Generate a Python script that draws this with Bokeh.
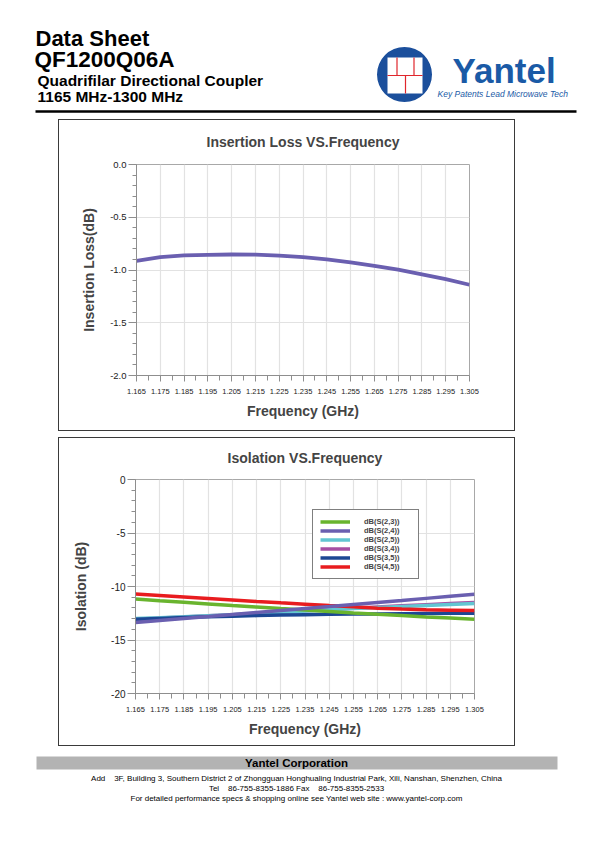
from bokeh.plotting import figure
from bokeh.models import Range1d, FixedTicker, Legend, LegendItem, Spacer
from bokeh.layouts import column, row
from bokeh.embed import file_html
from bokeh.resources import INLINE
from bokeh.core.properties import value

FONT = "Liberation Sans"

# ---------------- data ----------------
freq = [1.165, 1.175, 1.185, 1.195, 1.205, 1.215, 1.225, 1.235,
        1.245, 1.255, 1.265, 1.275, 1.285, 1.295, 1.305]
freq_tick_labels = ["1.165", "1.175", "1.185", "1.195", "1.205", "1.215", "1.225", "1.235",
                    "1.245", "1.255", "1.265", "1.275", "1.285", "1.295", "1.305"]

insertion_loss = [-0.913, -0.878, -0.862, -0.856, -0.853, -0.855, -0.864, -0.877,
                  -0.899, -0.928, -0.960, -0.997, -1.041, -1.087, -1.140]
il_ticks = [0.0, -0.5, -1.0, -1.5, -2.0]
il_tick_labels = ["0.0", "-0.5", "-1.0", "-1.5", "-2.0"]

s23 = [-11.17, -11.33, -11.48, -11.63, -11.78, -11.92, -12.06, -12.19,
       -12.33, -12.47, -12.60, -12.72, -12.84, -12.95, -13.06]
s24 = [-13.37, -13.18, -12.99, -12.80, -12.61, -12.42, -12.24, -12.06,
       -11.88, -11.69, -11.50, -11.31, -11.11, -10.91, -10.72]
s25 = [-13.00, -12.92, -12.83, -12.73, -12.63, -12.52, -12.40, -12.28,
       -12.17, -12.06, -11.96, -11.86, -11.77, -11.68, -11.60]
s34 = [-13.05, -12.95, -12.85, -12.74, -12.63, -12.51, -12.39, -12.27,
       -12.15, -12.03, -11.91, -11.80, -11.70, -11.60, -11.50]
s35 = [-13.06, -12.98, -12.90, -12.83, -12.77, -12.72, -12.67, -12.63,
       -12.60, -12.58, -12.56, -12.54, -12.52, -12.51, -12.50]
s45 = [-10.70, -10.84, -10.98, -11.12, -11.26, -11.40, -11.53, -11.65,
       -11.78, -11.90, -12.03, -12.11, -12.17, -12.21, -12.25]
iso_ticks = [0, -5, -10, -15, -20]
iso_tick_labels = ["0", "-5", "-10", "-15", "-20"]

series_names = ["dB(S(2,3))", "dB(S(2,4))", "dB(S(2,5))", "dB(S(3,4))", "dB(S(3,5))", "dB(S(4,5))"]
series_values = [s23, s24, s25, s34, s35, s45]
series_colors = ["#69b42e", "#6a5fb0", "#62c6d2", "#a54fa3", "#1c4794", "#e81c1f"]
draw_order = [3, 2, 4, 0, 5, 1]

PAGE_W = 590


def page_fig(height, y_top):
    f = figure(width=PAGE_W, height=height, x_range=Range1d(0, PAGE_W),
               y_range=Range1d(y_top + height, y_top), output_backend="svg",
               toolbar_location=None, min_border=0, frame_align=False)
    f.axis.visible = False
    f.grid.visible = False
    f.outline_line_color = None
    return f


def txt(f, x, y, s, size, color="black", style="normal", align="left", font=FONT):
    f.text(x=[x], y=[y], text=[s], text_font=value(font), text_font_size=size,
           text_font_style=style, text_color=color, text_align=align, text_baseline="middle")


# ---------------- header ----------------
hdr = page_fig(119, 0)
txt(hdr, 35, 37.5, "Data Sheet", "22px", style="bold")
txt(hdr, 34, 59, "QF1200Q06A", "22.5px", style="bold")
txt(hdr, 37, 79.5, "Quadrifilar Directional Coupler", "15.5px", style="bold")
txt(hdr, 37, 96, "1165 MHz-1300 MHz", "15.5px", style="bold")
hdr.segment(x0=[35], y0=[111], x1=[576], y1=[111], line_width=2.5, line_color="black")
# logo
hdr.circle(x=[404], y=[74], radius=27.5, fill_color="#1b4f9c", line_color=None)
hdr.quad(left=[387], right=[422], top=[57], bottom=[93], fill_color="white", line_color=None)
hdr.segment(x0=[387, 396.5, 413.5, 405], y0=[75, 57, 57, 75], x1=[422, 396.5, 413.5, 405],
            y1=[75, 75, 75, 93], line_color="#e0262c", line_width=1.2)
txt(hdr, 452, 70, "Yantel", "35px", color="#1a5aa6", style="bold")
txt(hdr, 437, 93.5, "Key Patents Lead Microwave Tech", "8.5px", color="#1a5aa6", style="italic")

BOX_W = 457


# ---------------- charts ----------------
def chart(height, y_range, ticks, tick_labels, minor, title, ylabel, borders, title_standoff,
          ylabel_standoff, ytick_size):
    left, right, top, bottom = borders
    p = figure(width=BOX_W, height=height, x_range=Range1d(freq[0], freq[-1]), y_range=y_range,
               output_backend="svg", toolbar_location=None, frame_align=False,
               min_border_left=left, min_border_right=right, min_border_top=top, min_border_bottom=bottom,
               styles={"outline": "1.6px solid #3a3a3a", "outline-offset": "-1.6px"})
    p.title.text = title
    p.title.align = "center"
    p.title.vertical_align = "top"
    p.title.text_font = FONT
    p.title.text_font_size = "14px"
    p.title.text_font_style = "bold"
    p.title.standoff = title_standoff
    p.outline_line_color = "#a8a8a8"
    p.background_fill_color = "white"
    p.border_fill_color = None

    xminor = [round(freq[i] + 0.005, 3) for i in range(len(freq) - 1)]
    p.xaxis.ticker = FixedTicker(ticks=freq, minor_ticks=xminor)
    p.xaxis.major_label_overrides = dict(zip(freq, freq_tick_labels))
    p.yaxis.ticker = FixedTicker(ticks=ticks, minor_ticks=minor)
    p.yaxis.major_label_overrides = dict(zip(ticks, tick_labels))

    for ax in (p.xaxis, p.yaxis):
        ax.axis_line_color = "#8e8e8e"
        ax.major_tick_line_color = "#8e8e8e"
        ax.minor_tick_line_color = "#8e8e8e"
        ax.major_tick_in = 0
        ax.minor_tick_in = 0
        ax.axis_label_text_font = FONT
        ax.axis_label_text_font_size = "14px"
        ax.axis_label_text_font_style = "bold"
        ax.major_label_text_font = FONT
        ax.major_label_text_color = "#222222"
    p.xaxis.axis_label = "Frequency (GHz)"
    p.xaxis.major_tick_out = 6
    p.xaxis.minor_tick_out = 5
    p.xaxis.major_label_text_font_size = "7.5px"
    p.xaxis.major_label_standoff = 7
    p.xaxis.axis_label_standoff = 6
    p.yaxis.axis_label = ylabel
    p.yaxis.major_tick_out = 8
    p.yaxis.minor_tick_out = 4
    p.yaxis.major_label_text_font_size = ytick_size
    p.yaxis.major_label_standoff = 2
    p.yaxis.axis_label_standoff = ylabel_standoff

    p.xgrid.grid_line_color = "#e2e2e2"
    p.ygrid.grid_line_color = "#e2e2e2"
    p.xgrid.grid_line_width = 1.2
    p.ygrid.grid_line_width = 1.2
    return p


il_minor = [round(-0.1 * i, 1) for i in range(21)]
p1 = chart(312, Range1d(-2.0, 0.0), il_ticks, il_tick_labels, il_minor,
           "Insertion Loss VS.Frequency", "Insertion Loss(dB)",
           (78, 46, 45, 56), 26, 10, "9.5px")
p1.line(freq, insertion_loss, line_width=3.8, line_color="#6a5fb0")

iso_minor = list(range(0, -21, -1))
p2 = chart(309, Range1d(-20, 0), iso_ticks, iso_tick_labels, iso_minor,
           "Isolation VS.Frequency", "Isolation (dB)",
           (77, 41, 42, 53), 23, 19, "10px")
renderers = {}
for i in draw_order:
    renderers[i] = p2.line(freq, series_values[i], line_width=3.5, line_color=series_colors[i])
legend = Legend(items=[LegendItem(label=series_names[i], renderers=[renderers[i]]) for i in range(6)],
                location=(177, 114), padding=7, spacing=0, margin=0,
                glyph_height=9, glyph_width=30, label_height=9, label_width=47, label_standoff=14,
                label_text_font=FONT, label_text_font_size="7.5px", label_text_font_style="bold",
                border_line_color="black", border_line_width=1.5, background_fill_alpha=1)
p2.add_layout(legend)

# ---------------- footer ----------------
ftr = page_fig(96, 746)
ftr.quad(left=[36], right=[557], top=[756], bottom=[769], fill_color="#b3b3b3", line_color=None)
txt(ftr, 296, 762.5, "Yantel Corporation", "11.5px", style="bold", align="center")
txt(ftr, 296, 777.5, "Add\u00a0\u00a0\u00a0 3F, Building 3, Southern District 2 of Zhongguan Honghualing Industrial Park, Xili, Nanshan, Shenzhen, China",
    "8px", align="center")
txt(ftr, 296, 787.5, "Tel\u00a0\u00a0\u00a0 86-755-8355-1886 Fax\u00a0\u00a0\u00a0 86-755-8355-2533", "8px", align="center")
txt(ftr, 296, 797.5, "For detailed performance specs & shopping online see Yantel web site : www.yantel-corp.com",
    "8px", align="center")

page = column(hdr,
              row(Spacer(width=58, height=312), p1, spacing=0),
              Spacer(width=10, height=6),
              row(Spacer(width=58, height=309), p2, spacing=0),
              ftr, spacing=0)
open("out.html", "w").write(file_html(page, INLINE))
